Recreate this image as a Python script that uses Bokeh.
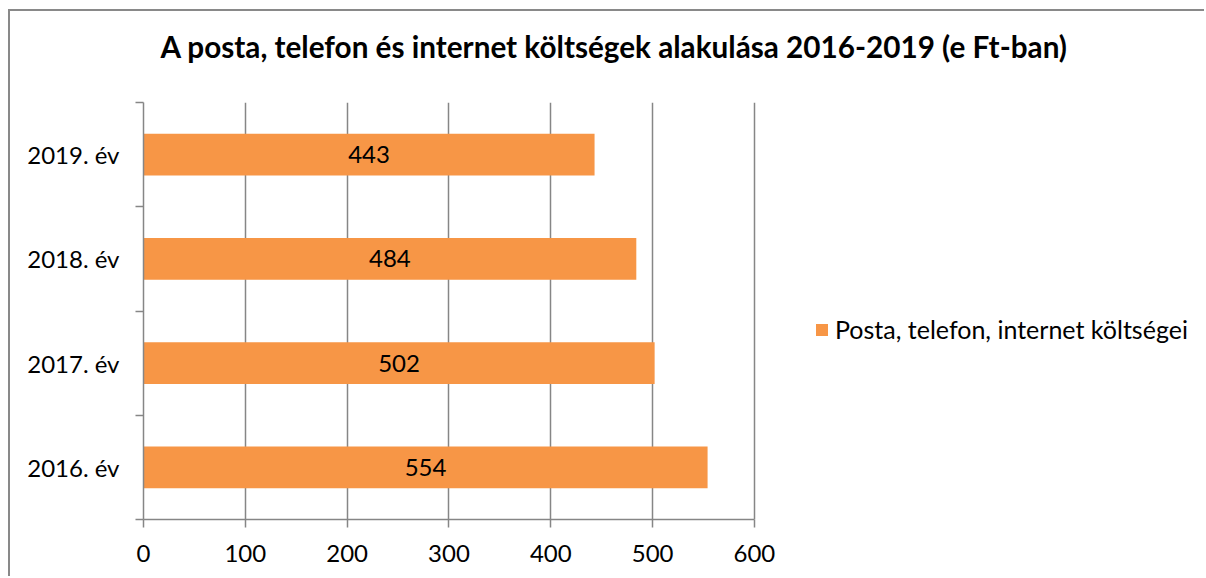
from bokeh.plotting import figure
from bokeh.models import Range1d, FixedTicker, Legend, LegendItem, ColumnDataSource
from bokeh.embed import file_html
from bokeh.resources import INLINE
from bokeh.core.properties import value

title_text = "A posta, telefon és internet költségek alakulása 2016-2019 (e Ft-ban)"
years = ["2016. év", "2017. év", "2018. év", "2019. év"]
costs = [554, 502, 484, 443]
x_ticks = [0, 100, 200, 300, 400, 500, 600]
series_name = "Posta, telefon, internet költségei"

FONT = "Lato"
BAR = "#F79646"
AX = "#868686"

pos = [i + 0.5 for i in range(len(years))]
src = ColumnDataSource(dict(y=pos, right=costs, mid=[c / 2 for c in costs],
                            label=[str(c) for c in costs]))

p = figure(width=1196, height=567, output_backend="svg", toolbar_location=None,
           x_range=Range1d(0, 1044), y_range=Range1d(0, len(years)),
           min_border_left=133, min_border_right=0, min_border_top=91,
           min_border_bottom=59)
p.styles = {"margin-left": "10px", "margin-top": "11px",
            "box-shadow": "-2px -2px 0 0 #898989"}
p.outline_line_color = None
p.background_fill_color = "white"
p.border_fill_color = "white"

p.title.text = title_text + "\n"
p.title.align = "left"
p.title.offset = 17
p.title.standoff = 8
p.title.text_font = FONT
p.title.text_font_style = "bold"
p.title.text_font_size = "29.7px"
p.title.text_color = "black"

r = p.hbar(y="y", left=0, right="right", height=0.4, source=src,
           fill_color=BAR, line_color=None)
p.text(x="mid", y="y", text="label", source=src, text_align="center",
       text_baseline="middle", text_font=value(FONT), text_font_size="24px",
       text_color="black")

# x axis
p.xaxis.ticker = FixedTicker(ticks=x_ticks)
p.xaxis.bounds = (0, 600)
p.xaxis.axis_line_color = AX
p.xaxis.axis_line_width = 1.5
p.xaxis.major_tick_line_color = AX
p.xaxis.major_tick_line_width = 1.5
p.xaxis.major_tick_in = 0
p.xaxis.major_tick_out = 8
p.xaxis.minor_tick_line_color = None
p.xaxis.major_label_text_font = FONT
p.xaxis.major_label_text_font_size = "24px"
p.xaxis.major_label_text_color = "black"
p.xaxis.major_label_standoff = 17

p.xgrid.ticker = FixedTicker(ticks=x_ticks)
p.xgrid.grid_line_color = AX
p.xgrid.grid_line_width = 1.5
p.ygrid.visible = False

# y axis: labels at category centres, tick marks at category boundaries
p.yaxis.ticker = FixedTicker(ticks=pos, minor_ticks=list(range(len(years) + 1)))
p.yaxis.major_label_overrides = {pp: yy for pp, yy in zip(pos, years)}
p.yaxis.axis_line_color = AX
p.yaxis.axis_line_width = 1.5
p.yaxis.major_tick_line_color = None
p.yaxis.major_tick_in = 0
p.yaxis.major_tick_out = 8
p.yaxis.minor_tick_line_color = AX
p.yaxis.minor_tick_line_width = 1.5
p.yaxis.minor_tick_in = 0
p.yaxis.minor_tick_out = 8
p.yaxis.major_label_text_font = FONT
p.yaxis.major_label_text_font_size = "24px"
p.yaxis.major_label_text_color = "black"
p.yaxis.major_label_standoff = 16

legend = Legend(items=[LegendItem(label=series_name, renderers=[r])],
                location=(671, 175), orientation="vertical")
legend.border_line_color = None
legend.background_fill_alpha = 0
legend.padding = 0
legend.margin = 0
legend.glyph_width = 15
legend.glyph_height = 15
legend.label_standoff = 6
legend.label_text_font = FONT
legend.label_text_font_size = "25px"
legend.label_text_color = "black"
p.add_layout(legend)

open("out.html", "w").write(file_html(p, INLINE))
